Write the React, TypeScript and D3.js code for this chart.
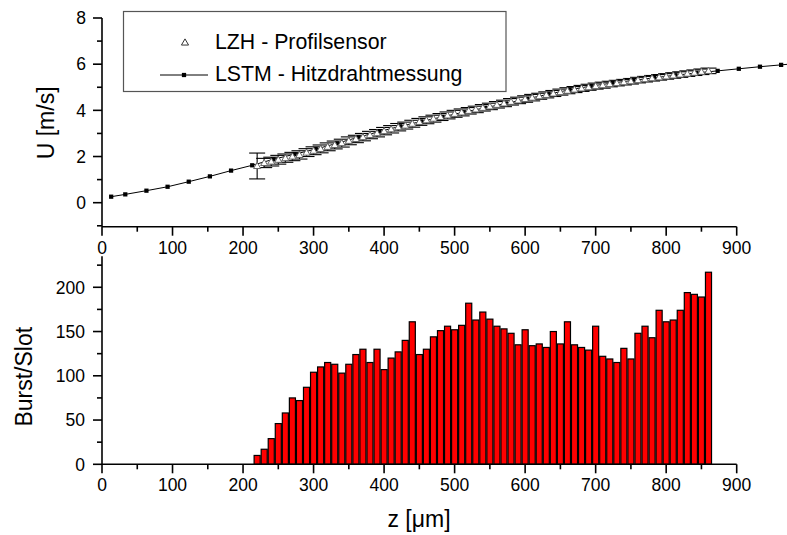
import React from "react";
import * as d3 from "d3";

// ---- Data ----
const LSTM_Z = [13, 33, 63, 93, 123, 153, 183, 213, 243, 273, 303, 333, 363, 393, 423, 453, 483, 513, 543, 573, 603, 633, 663, 693, 723, 753, 783, 813, 843, 873, 903, 933, 963, 993];
const LSTM_U = [0.26, 0.36, 0.52, 0.69, 0.91, 1.14, 1.39, 1.62, 1.88, 2.10, 2.32, 2.57, 2.83, 3.08, 3.31, 3.52, 3.72, 3.92, 4.11, 4.30, 4.50, 4.70, 4.89, 5.05, 5.18, 5.30, 5.41, 5.52, 5.62, 5.71, 5.80, 5.89, 5.97, 6.05];

const LZH_Z = [220, 230, 240, 250, 260, 270, 280, 290, 300, 310, 320, 330, 340, 350, 360, 370, 380, 390, 400, 410, 420, 430, 440, 450, 460, 470, 480, 490, 500, 510, 520, 530, 540, 550, 560, 570, 580, 590, 600, 610, 620, 630, 640, 650, 660, 670, 680, 690, 700, 710, 720, 730, 740, 750, 760, 770, 780, 790, 800, 810, 820, 830, 840, 850, 860];
const LZH_U = [1.59, 1.72, 1.78, 1.86, 1.93, 2.00, 2.07, 2.17, 2.25, 2.33, 2.42, 2.50, 2.58, 2.68, 2.76, 2.84, 2.93, 3.01, 3.10, 3.18, 3.27, 3.34, 3.42, 3.50, 3.57, 3.64, 3.71, 3.78, 3.85, 3.91, 3.98, 4.04, 4.11, 4.17, 4.24, 4.30, 4.37, 4.43, 4.49, 4.55, 4.61, 4.67, 4.73, 4.79, 4.85, 4.90, 4.95, 5.00, 5.05, 5.09, 5.14, 5.18, 5.22, 5.26, 5.31, 5.35, 5.39, 5.43, 5.47, 5.51, 5.55, 5.59, 5.63, 5.67, 5.71];
const LZH_ERR = [0.56, 0.2, 0.19, 0.19, 0.18, 0.18, 0.18, 0.17, 0.17, 0.17, 0.17, 0.17, 0.17, 0.17, 0.16, 0.16, 0.16, 0.16, 0.16, 0.16, 0.16, 0.15, 0.15, 0.15, 0.15, 0.15, 0.15, 0.15, 0.15, 0.15, 0.14, 0.14, 0.14, 0.14, 0.14, 0.14, 0.14, 0.14, 0.14, 0.14, 0.13, 0.13, 0.13, 0.13, 0.13, 0.13, 0.13, 0.13, 0.13, 0.13, 0.12, 0.12, 0.12, 0.12, 0.12, 0.12, 0.12, 0.12, 0.12, 0.12, 0.12, 0.12, 0.12, 0.12, 0.12];

const BAR_Z = [220, 230, 240, 250, 260, 270, 280, 290, 300, 310, 320, 330, 340, 350, 360, 370, 380, 390, 400, 410, 420, 430, 440, 450, 460, 470, 480, 490, 500, 510, 520, 530, 540, 550, 560, 570, 580, 590, 600, 610, 620, 630, 640, 650, 660, 670, 680, 690, 700, 710, 720, 730, 740, 750, 760, 770, 780, 790, 800, 810, 820, 830, 840, 850, 860];
const BAR_COUNTS = [10, 17, 29, 46, 58, 75, 72, 87, 104, 110, 115, 113, 103, 113, 124, 130, 115, 130, 107, 120, 127, 140, 161, 124, 130, 144, 151, 156, 152, 157, 182, 163, 172, 164, 156, 153, 148, 135, 152, 134, 136, 132, 150, 136, 161, 135, 132, 129, 156, 122, 119, 115, 131, 119, 148, 156, 143, 174, 161, 163, 174, 194, 192, 189, 217];

const X_TICKS = [0, 100, 200, 300, 400, 500, 600, 700, 800, 900];
const X_MINOR = [50, 150, 250, 350, 450, 550, 650, 750, 850];
const UTOP_TICKS = [0, 2, 4, 6, 8];
const UTOP_MINOR = [-1, 1, 3, 5, 7];
const BOT_TICKS = [0, 50, 100, 150, 200];
const BOT_MINOR = [25, 75, 125, 175, 225];

const LEGEND = ["LZH - Profilsensor", "LSTM - Hitzdrahtmessung"];

const FONT = "'Liberation Sans', Arial, sans-serif";

export default function App() {
  const x = d3.scaleLinear().domain([0, 900]).range([102, 736.7]);
  const yT = d3.scaleLinear().domain([-1.04, 8]).range([226.7, 18]);
  const yB = d3.scaleLinear().domain([0, 235]).range([464.3, 256.3]);

  const line = d3
    .line<number>()
    .x((_, i) => x(LSTM_Z[i]))
    .y((d) => yT(d));
  const sq = d3.symbol(d3.symbolSquare, 18)()!;
  const tri = d3.symbol(d3.symbolTriangle, 22)()!;

  const barW = x(8.6) - x(0);
  const capW = 8;

  const tickLabelStyle = { fontFamily: FONT, fontSize: 17.5, fill: "#000" } as const;

  const xAxis = (y0: number, key: string) => (
    <g key={key}>
      <line x1={x(0)} x2={x(900)} y1={y0} y2={y0} stroke="#000" strokeWidth={1.6} />
      {X_TICKS.map((t) => (
        <g key={t}>
          <line x1={x(t)} x2={x(t)} y1={y0} y2={y0 + 9} stroke="#000" strokeWidth={1.6} />
          <text x={x(t)} y={y0 + 27} textAnchor="middle" {...tickLabelStyle}>
            {t}
          </text>
        </g>
      ))}
      {X_MINOR.map((t) => (
        <line key={"m" + t} x1={x(t)} x2={x(t)} y1={y0} y2={y0 + 5} stroke="#000" strokeWidth={1.6} />
      ))}
    </g>
  );

  return (
    <div style={{ position: "fixed", left: 0, top: 0 }}>
      <svg width={787} height={535} style={{ display: "block", background: "#fff" }}>
        {/* ---------- TOP PLOT ---------- */}
        <line x1={102} x2={102} y1={yT(8)} y2={yT(-1.04)} stroke="#000" strokeWidth={1.6} />
        {UTOP_TICKS.map((t) => (
          <g key={"yt" + t}>
            <line x1={93} x2={102} y1={yT(t)} y2={yT(t)} stroke="#000" strokeWidth={1.6} />
            <text x={86} y={yT(t)} dy="0.36em" textAnchor="end" {...tickLabelStyle}>
              {t}
            </text>
          </g>
        ))}
        {UTOP_MINOR.map((t) => (
          <line key={"ytm" + t} x1={97} x2={102} y1={yT(t)} y2={yT(t)} stroke="#000" strokeWidth={1.6} />
        ))}
        {xAxis(yT(-1.04), "xtop")}
        <text
          transform={`translate(53.5,${(yT(8) + yT(-1.04)) / 2 + 0.5}) rotate(-90)`}
          textAnchor="middle"
          fontFamily={FONT}
          fontSize={23}
        >
          U [m/s]
        </text>

        {/* LSTM line */}
        <path d={line(LSTM_U)!} fill="none" stroke="#000" strokeWidth={1} />

        {/* LZH error bars */}
        {LZH_Z.map((z, i) => {
          const cx = x(z);
          const hi = yT(LZH_U[i] + LZH_ERR[i]);
          const lo = yT(LZH_U[i] - LZH_ERR[i]);
          return (
            <g key={"eb" + z} stroke="#000" strokeWidth={1.1}>
              <line x1={cx} x2={cx} y1={hi} y2={lo} />
              <line x1={cx - capW} x2={cx + capW} y1={hi} y2={hi} />
              <line x1={cx - capW} x2={cx + capW} y1={lo} y2={lo} />
            </g>
          );
        })}
        {LSTM_Z.map((z, i) => (
          <path key={"sq" + z} d={sq} transform={`translate(${x(z)},${yT(LSTM_U[i])})`} fill="#000" />
        ))}
        {LZH_Z.map((z, i) => (
          <path
            key={"tr" + z}
            d={tri}
            transform={`translate(${x(z)},${yT(LZH_U[i]) + 0.5})`}
            fill="#fff"
            stroke="#666"
            strokeWidth={1}
          />
        ))}

        {/* legend */}
        <rect x={123.5} y={11.5} width={382.5} height={80} fill="#fff" stroke="#555" strokeWidth={1.2} />
        <path d={tri} transform="translate(185,43)" fill="#fff" stroke="#333" strokeWidth={1} />
        <text x={215} y={48.5} fontFamily={FONT} fontSize={21.3}>
          {LEGEND[0]}
        </text>
        <line x1={160} x2={208} y1={75} y2={75} stroke="#000" strokeWidth={1} />
        <path d={sq} transform="translate(184,75)" fill="#000" />
        <text x={215} y={81.2} fontFamily={FONT} fontSize={21.3}>
          {LEGEND[1]}
        </text>

        {/* ---------- BOTTOM PLOT ---------- */}
        {BAR_Z.map((z, i) => (
          <rect
            key={"b" + z}
            x={x(z) - barW / 2}
            y={yB(BAR_COUNTS[i])}
            width={barW}
            height={yB(0) - yB(BAR_COUNTS[i])}
            fill="#ff0000"
            stroke="#000"
            strokeWidth={1.2}
          />
        ))}
        <line x1={102} x2={102} y1={yB(235)} y2={yB(0)} stroke="#000" strokeWidth={1.6} />
        {BOT_TICKS.map((t) => (
          <g key={"yb" + t}>
            <line x1={93} x2={102} y1={yB(t)} y2={yB(t)} stroke="#000" strokeWidth={1.6} />
            <text x={85} y={yB(t)} dy="0.36em" textAnchor="end" {...tickLabelStyle}>
              {t}
            </text>
          </g>
        ))}
        {BOT_MINOR.map((t) => (
          <line key={"ybm" + t} x1={97} x2={102} y1={yB(t)} y2={yB(t)} stroke="#000" strokeWidth={1.6} />
        ))}
        {xAxis(yB(0), "xbot")}
        <text
          transform={`translate(31.5,${376.7}) rotate(-90)`}
          textAnchor="middle"
          fontFamily={FONT}
          fontSize={23}
        >
          Burst/Slot
        </text>
        <text x={419} y={527} textAnchor="middle" fontFamily={FONT} fontSize={23}>
          z [μm]
        </text>
      </svg>
    </div>
  );
}
